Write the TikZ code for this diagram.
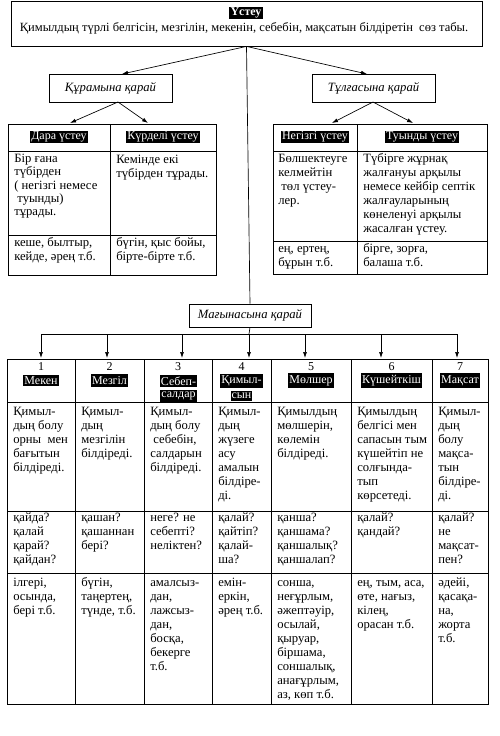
\documentclass[tikz,border=0pt]{standalone}
\usepackage{fontspec}
\setmainfont{Liberation Serif}
\usetikzlibrary{arrows.meta,fit}
\begin{document}
\begin{tikzpicture}[x=0.75pt,y=-0.75pt,
  box/.style={draw, line width=0.6pt, inner sep=0pt},
  txt/.style={anchor=north west, inner sep=0pt, align=left, font=\fontsize{9.5}{10.5}\selectfont},
  hl/.style={fill=black, text=white, inner sep=0.8pt, font=\fontsize{9}{10}\selectfont},
  num/.style={inner sep=0pt, font=\fontsize{9}{10}\selectfont},
  lbl/.style={font=\fontsize{9.5}{11}\selectfont\itshape},
  arr/.style={-{Latex[length=4.5pt,width=3pt]}, line width=0.5pt},
  ln/.style={line width=0.5pt},
  grid/.style={line width=0.75pt}]
\useasboundingbox (0,0) rectangle (500,736);

% ---- top box
\node[box, fit={(11,1)(482,46)}] (top) {};
\node[hl, font=\fontsize{9}{10}\selectfont\bfseries] (title) at (246,13) {Үстеу};
\node[inner sep=0pt, font=\fontsize{9.4}{10}\selectfont] (def) at (244,28) {Қимылдың түрлі белгісін, мезгілін, мекенін, себебін, мақсатын білдіретін\ \ сөз табы.};

% ---- second level labels
\node[box, lbl, fit={(49,74)(172,102)}] (kur) {};
\node[lbl] at (kur.center) {Құрамына қарай};
\node[box, lbl, fit={(312,74)(435,102)}] (tul) {};
\node[lbl] at (tul.center) {Тұлғасына қарай};
\node[box, lbl, fit={(189,304)(311,327)}] (mag) {};
\node[lbl] at (mag.center) {Мағынасына қарай};

\coordinate (kurin) at (122,74);
\coordinate (tulin) at (367,74);
\draw[arr] (top.south) -- (kurin);
\draw[arr] (top.south) -- (tulin);
\draw[ln] (top.south) -- (mag.north);

% ---- left table
\coordinate (kurout) at (118,102);
\coordinate (daratop) at (70,123);
\coordinate (kurdtop) at (148,123);
\draw[arr] (kurout) -- (daratop);
\draw[arr] (kurout) -- (kurdtop);
\draw[grid] (8,124) rectangle (216,275);
\draw[grid] (110,124) -- (110,275);
\draw[grid] (8,151) -- (216,151);
\draw[grid] (8,235) -- (216,235);
\node[hl] (dara) at (59,137) {Дара үстеу};
\node[hl] (kurd) at (163,137) {Күрделі үстеу};
\node[txt, font=\fontsize{9.5}{10}\selectfont] (darab) at (14,153) {\strut Бір ғана\\түбірден\\( негізгі немесе\\ \ туынды)\\тұрады.};
\node[txt] (kurdb) at (116,153) {\strut Кемінде екі\\түбірден тұрады.};
\node[txt] (darae) at (14,236) {\strut кеше, былтыр,\\кейде, әрең т.б.};
\node[txt] (kurde) at (116,236) {\strut бүгін, қыс бойы,\\бірте-бірте т.б.};

% ---- right table
\coordinate (tulout) at (373,102);
\coordinate (negtop) at (332,123);
\coordinate (tuytop) at (413,123);
\draw[arr] (tulout) -- (negtop);
\draw[arr] (tulout) -- (tuytop);
\draw[grid] (273,124) rectangle (487,274);
\draw[grid] (357,124) -- (357,274);
\draw[grid] (273,151) -- (487,151);
\draw[grid] (273,241) -- (487,241);
\node[hl] (neg) at (315,137) {Негізгі үстеу};
\node[hl] (tuy) at (422,137) {Туынды үстеу};
\node[txt] (negb) at (278,152) {\strut Бөлшектеуге\\келмейтін\\ \ төл үстеу-\\лер.};
\node[txt] (tuyb) at (363,152) {\strut Түбірге жұрнақ\\жалғануы арқылы\\немесе кейбір септік\\жалғауларының\\көнеленуі арқылы\\жасалған үстеу.};
\node[txt] (nege) at (278,242) {\strut ең, ертең,\\бұрын т.б.};
\node[txt] (tuye) at (363,242) {\strut бірге, зорға,\\балаша т.б.};

% ---- bottom table
\coordinate (bar) at (249,334);
\draw[ln] (mag.south) -- (bar);
\draw[ln] (41,334) -- (457,334);
\foreach \x/\n in {41/1,107/2,182/3,249/4,305/5,381/6,457/7}{
  \coordinate (b\n) at (\x,334);
  \coordinate (t\n) at (\x,358);
  \draw[arr] (b\n) -- (t\n);
}
\draw[grid] (7,359) rectangle (488,704);
\foreach \x in {75,144,212,271,351,432}{\draw[grid] (\x,359) -- (\x,704);}
\foreach \y in {402,511,573}{\draw[grid] (7,\y) -- (488,\y);}

\node[num] (n1) at (41,367) {1};
\node[num] (n2) at (109.5,367) {2};
\node[num] (n3) at (178,367) {3};
\node[num] (n4) at (241.5,367) {4};
\node[num] (n5) at (311,367) {5};
\node[num] (n6) at (391.5,367) {6};
\node[num] (n7) at (460,367) {7};
\node[hl, inner ysep=1.5pt] (h1) at (41,380.5) {Мекен};
\node[hl, inner ysep=1.5pt] (h2) at (109.5,380.5) {Мезгіл};
\node[hl, inner ysep=1.5pt] (h3a) at (178.5,381) {Себеп-};
\node[hl, inner ysep=1.5pt] (h3b) at (178.5,396) {салдар};
\node[hl, inner ysep=1.5pt] (h4a) at (241.5,381) {Қимыл-};
\node[hl, inner ysep=1.5pt] (h4b) at (241.5,396) {сын};
\node[hl, inner ysep=1.5pt] (h5) at (311,380.5) {Мөлшер};
\node[hl, inner ysep=1.5pt] (h6) at (391.5,380.5) {Күшейткіш};
\node[hl, inner ysep=1.5pt] (h7) at (460,380.5) {Мақсат};

\node[txt] (m1) at (13,405) {\strut Қимыл-\\дың болу\\орны\ \ мен\\бағытын\\білдіреді.};
\node[txt] (m2) at (81,405) {\strut Қимыл-\\дың\\мезгілін\\білдіреді.};
\node[txt] (m3) at (150,405) {\strut Қимыл-\\дың болу\\ \ себебін,\\салдарын\\білдіреді.};
\node[txt] (m4) at (218,405) {\strut Қимыл-\\дың\\жүзеге\\асу\\амалын\\білдіре-\\ді.};
\node[txt] (m5) at (277,405) {\strut Қимылдың\\мөлшерін,\\көлемін\\білдіреді.};
\node[txt] (m6) at (357,405) {\strut Қимылдың\\белгісі мен\\сапасын тым\\күшейтіп не\\солғында-\\тып\\көрсетеді.};
\node[txt] (m7) at (438,405) {\strut Қимыл-\\дың\\болу\\мақса-\\тын\\білдіре-\\ді.};

\node[txt] (q1) at (13,511) {\strut қайда?\\қалай\\қарай?\\қайдан?};
\node[txt] (q2) at (81,511) {\strut қашан?\\қашаннан\\бері?};
\node[txt] (q3) at (150,511) {\strut неге? не\\себепті?\\неліктен?};
\node[txt] (q4) at (218,511) {\strut қалай?\\қайтіп?\\қалай-\\ша?};
\node[txt] (q5) at (277,511) {\strut қанша?\\қаншама?\\қаншалық?\\қаншалап?};
\node[txt] (q6) at (357,511) {\strut қалай?\\қандай?};
\node[txt] (q7) at (438,511) {\strut қалай?\\не\\мақсат-\\пен?};

\node[txt] (e1) at (13,576) {\strut ілгері,\\осында,\\бері т.б.};
\node[txt] (e2) at (81,576) {\strut бүгін,\\таңертең,\\түнде, т.б.};
\node[txt] (e3) at (150,576) {\strut амалсыз-\\дан,\\лажсыз-\\дан,\\босқа,\\бекерге\\т.б.};
\node[txt] (e4) at (218,576) {\strut емін-\\еркін,\\әрең т.б.};
\node[txt] (e5) at (277,576) {\strut сонша,\\неғұрлым,\\әжептәуір,\\осылай,\\қыруар,\\біршама,\\соншалық,\\анағұрлым,\\аз, көп т.б.};
\node[txt] (e6) at (357,576) {\strut ең, тым, аса,\\өте, нағыз,\\кілең,\\орасан т.б.};
\node[txt] (e7) at (438,576) {\strut әдейі,\\қасақа-\\на,\\жорта\\т.б.};
\end{tikzpicture}
\end{document}
